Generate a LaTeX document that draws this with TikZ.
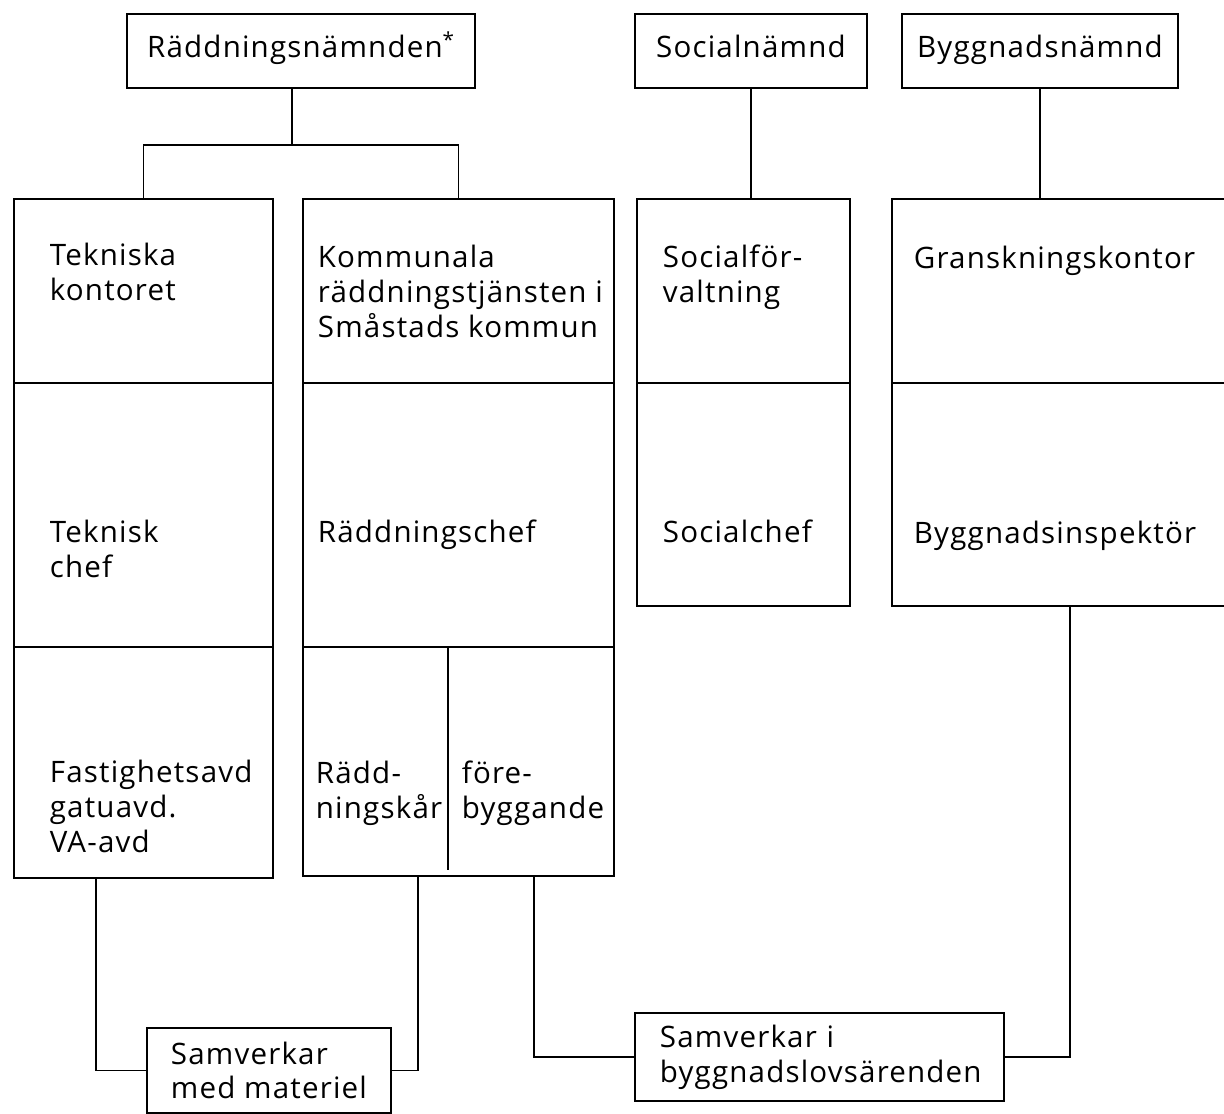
\documentclass[tikz,border=0pt]{standalone}
\usepackage{fontspec}
\setmainfont[LetterSpace=4]{Open Sans}

\begin{document}
\begin{tikzpicture}[
                    x=0.025cm, y=-0.025cm,
                    line width=1.3pt,
                    every node/.style={font=\fontsize{21}{24.8}\selectfont},
                    box/.style={draw, inner sep=0pt, anchor=north west},
                    board/.style={box, minimum height=1.85cm, text height=1.25em, text depth=0.25em},
                    txt/.style={anchor=base west, align=left, inner sep=0pt}
                ]
                \useasboundingbox (0,0) rectangle (1224,1113);

                % the three boards
                \node[board, minimum width=8.7cm] (rn) at (126,13) {Räddningsnämnden\textsuperscript{*}};
                \node[board, minimum width=5.8cm] (sn) at (634,13) {Socialnämnd};
                \node[board, minimum width=6.9cm] (bn) at (901,13) {Byggnadsnämnd};

                % the four columns
                \node[box, minimum width=6.475cm, minimum height=16.975cm] (tek) at (13,198) {};
                \node[box, minimum width=7.775cm, minimum height=16.925cm] (rtj) at (302,198) {};
                \node[box, minimum width=5.325cm, minimum height=10.175cm] (soc) at (636,198) {};
                \node[box, minimum width=8.5cm, minimum height=10.175cm] (byg) at (891,198) {};
                \foreach \col in {tek,rtj,soc,byg}
                    \draw (\col.west |- 0,383) -- (\col.east |- 0,383);
                \foreach \col in {tek,rtj}
                    \draw (\col.west |- 0,647) -- (\col.east |- 0,647);
                \draw (448,647) -- (448,870);

                % base of a node = baseline of its last line
                \node[txt] (tek1) at (49,300) {Tekniska\\kontoret};
                \node[txt] (tek2) at (49,577) {Teknisk\\chef};
                \node[txt] (tek3) at (49,852) {Fastighetsavd\\gatuavd.\\VA-avd};
                \node[txt] (rtj1) at (317,337) {Kommunala\\räddningstjänsten i\\Småstads kommun};
                \node[txt] (rtj2) at (317,542) {Räddningschef};
                \node[txt] (rtj3) at (315,818) {Rädd-\\ningskår};
                \node[txt] (rtj4) at (461,818) {före-\\byggande};
                \node[txt] (soc1) at (662,302) {Socialför-\\valtning};
                \node[txt] (soc2) at (662,542) {Socialchef};
                \node[txt] (byg1) at (913,268) {Granskningskontor};
                \node[txt] (byg2) at (913,543) {Byggnadsinspektör};

                % cooperation boxes
                \node[box, align=left, inner xsep=0.6cm, minimum height=2.125cm] (mat) at (146,1027) {Samverkar\\med materiel};
                \node[box, align=left, inner xsep=0.625cm, text width=7.975cm, minimum height=2.2cm] (lov) at (634,1012) {Samverkar i\\byggnadslovsärenden};

                \coordinate (fork) at (292,145);
                \draw (fork |- rn.south) -- (fork);
                \draw (tek.north) |- (fork) -| (rtj.north);
                \draw (sn.south) -- (sn.south |- soc.north);
                \draw (bn.south) -- (bn.south |- byg.north);
                \draw (tek.south -| 96,0) |- (mat.west);
                \draw (rtj.south -| 418,0) |- (mat.east);
                \draw (rtj.south -| 534,0) |- (lov.west);
                \draw (byg.south -| 1070,0) |- (lov.east);
            \end{tikzpicture}
\end{document}
